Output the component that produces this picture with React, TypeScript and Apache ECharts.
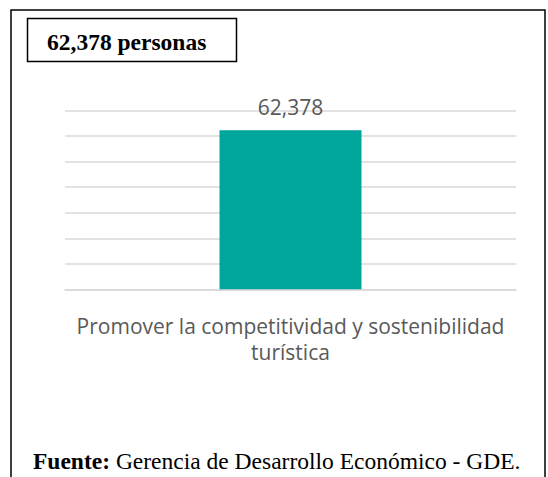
import React, { useEffect, useRef } from "react";
import * as echarts from "echarts";

const categories = ["Promover la competitividad y sostenibilidad\nturística"];
const values = [62378];
const titleText = "62,378 personas";
const sourceBold = "Fuente:";
const sourceText = " Gerencia de Desarrollo Económico - GDE.";

export default function App() {
  const ref = useRef<HTMLDivElement>(null);
  useEffect(() => {
    if (!ref.current) return;
    const chart = echarts.init(ref.current, null, { renderer: "svg" });
    chart.setOption({
      animation: false,
      backgroundColor: "#ffffff",
      grid: { left: 65, right: 32, top: 110.7, bottom: 187.7 },
      xAxis: {
        type: "category",
        data: categories,
        axisLine: { lineStyle: { color: "#d9d9d9", width: 1.5 } },
        axisTick: { show: false },
        axisLabel: {
          color: "#595959",
          fontFamily: "Open Sans",
          fontSize: 21,
          lineHeight: 26,
          margin: 24,
          interval: 0,
        },
      },
      yAxis: {
        type: "value",
        min: 0,
        max: 70000,
        interval: 10000,
        axisLabel: { show: false },
        axisLine: { show: false },
        axisTick: { show: false },
        splitLine: { lineStyle: { color: "#d9d9d9", width: 1.5 } },
      },
      series: [
        {
          type: "bar",
          data: values,
          barWidth: 142,
          itemStyle: { color: "#00A59B" },
          label: {
            show: true,
            position: "top",
            distance: 13,
            color: "#595959",
            fontFamily: "Open Sans",
            fontSize: 21,
            formatter: (p: any) => p.value.toLocaleString("en-US"),
          },
        },
      ],
      graphic: [
        {
          type: "rect",
          shape: { x: 11, y: 10, width: 534, height: 490 },
          style: { fill: "none", stroke: "#000", lineWidth: 1.5 },
        },
        {
          type: "rect",
          shape: { x: 27.5, y: 18.5, width: 209, height: 43 },
          style: { fill: "#fff", stroke: "#000", lineWidth: 1.5 },
        },
        {
          type: "text",
          x: 47,
          y: 42,
          style: {
            text: titleText,
            fontFamily: "Liberation Serif",
            fontWeight: "bold",
            fontSize: 23.5,
            fill: "#000",
            textVerticalAlign: "middle",
          },
        },
        {
          type: "text",
          x: 33,
          y: 461,
          style: {
            text: "{b|" + sourceBold + "}{r|" + sourceText + "}",
            textVerticalAlign: "middle",
            rich: {
              b: { fontFamily: "Liberation Serif", fontWeight: "bold", fontSize: 23.5, fill: "#000" },
              r: { fontFamily: "Liberation Serif", fontSize: 23.5, fill: "#000" },
            },
          },
        },
      ],
    });
    return () => chart.dispose();
  }, []);
  return (
    <div
      ref={ref}
      style={{ position: "fixed", left: 0, top: 0, width: 548, height: 477 }}
    />
  );
}
